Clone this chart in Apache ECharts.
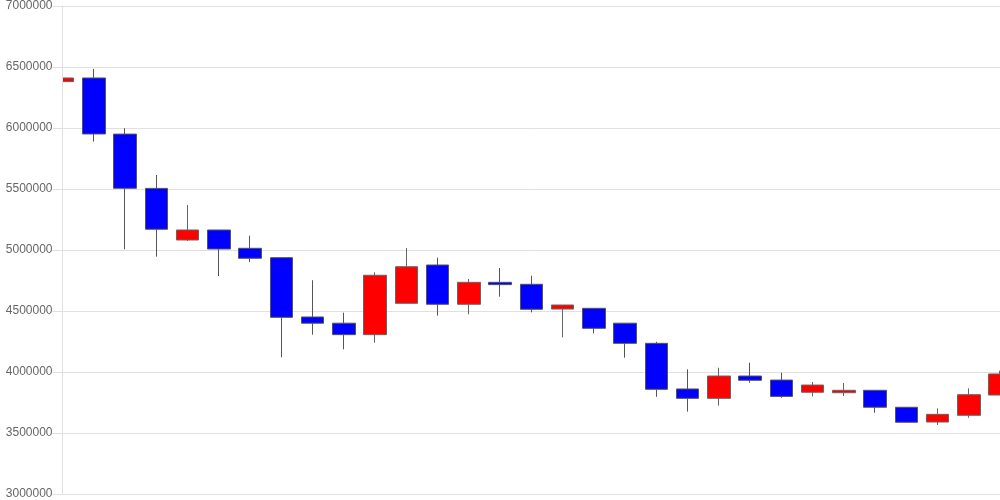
<!DOCTYPE html>
<html>
<head>
<meta charset="utf-8">
<script src="https://cdn.jsdelivr.net/npm/echarts@6/dist/echarts.min.js"></script>
<style>
  html, body { margin: 0; padding: 0; background: #fff; }
  #main { width: 1000px; height: 500px; }
</style>
</head>
<body>
<div id="main"></div>
<script>
// 31 sessions, labels are not shown on the chart
const days = [
  'd01', 'd02', 'd03', 'd04', 'd05', 'd06', 'd07', 'd08', 'd09', 'd10',
  'd11', 'd12', 'd13', 'd14', 'd15', 'd16', 'd17', 'd18', 'd19', 'd20',
  'd21', 'd22', 'd23', 'd24', 'd25', 'd26', 'd27', 'd28', 'd29', 'd30', 'd31'
];
const openV = [
  6380000, 6410000, 5950000, 5505000, 5082000, 5164000, 5014000, 4937000, 4451000, 4400000,
  4306000, 4563000, 4877000, 4555000, 4735000, 4719000, 4516000, 4522000, 4400000, 4235000,
  3861000, 3784000, 3967000, 3934000, 3834000, 3830000, 3850000, 3711000, 3590000, 3645000, 3811000
];
const closeV = [
  6410000, 5951000, 5506000, 5170000, 5164000, 5008000, 4932000, 4448000, 4400000, 4306000,
  4793000, 4863000, 4555000, 4735000, 4716000, 4514000, 4549000, 4358000, 4235000, 3858000,
  3784000, 3967000, 3932000, 3800000, 3893000, 3850000, 3711000, 3588000, 3653000, 3814000, 3984000
];
const lowV = [
  6370000, 5888000, 5006000, 4945000, 5074000, 4787000, 4900000, 4120000, 4306000, 4186000,
  4240000, 4563000, 4462000, 4473000, 4617000, 4489000, 4284000, 4317000, 4117000, 3797000,
  3675000, 3724000, 3912000, 3789000, 3800000, 3803000, 3666000, 3585000, 3566000, 3625000, 3811000
];
const highV = [
  6450000, 6484000, 5998000, 5615000, 5369000, 5164000, 5117000, 4937000, 4752000, 4486000,
  4817000, 5016000, 4937000, 4762000, 4852000, 4789000, 4549000, 4522000, 4400000, 4248000,
  4022000, 4035000, 4076000, 3994000, 3918000, 3910000, 3850000, 3711000, 3702000, 3866000, 4010000
];

const chart = echarts.init(document.getElementById('main'));
const ohlc = days.map((d, i) => [openV[i], closeV[i], lowV[i], highV[i]]);
const gridLeft = 62.5;
const yMin = 3000000, yMax = 7000000, yStep = 500000;

chart.setOption({
  animation: false,
  grid: { left: gridLeft, right: 0, top: 6, bottom: 6, containLabel: false, outerBoundsMode: 'none' },
  // white mask so the first candle is cut at the y axis like the original
  graphic: [{
    type: 'rect',
    z: 5,
    silent: true,
    shape: { x: 0, y: 0, width: gridLeft, height: 500 },
    style: { fill: '#fff' }
  }],
  xAxis: {
    type: 'category',
    data: days,
    boundaryGap: false,
    axisLine: { show: false },
    axisTick: { show: false },
    axisLabel: { show: false },
    splitLine: { show: false }
  },
  yAxis: [
    {
      // grid lines, under the candles
      type: 'value',
      min: yMin, max: yMax, interval: yStep,
      axisLine: { show: false },
      axisTick: { show: false },
      axisLabel: { show: false },
      splitLine: { show: true, lineStyle: { color: '#e0e0e0' } }
    },
    {
      // axis line, ticks and labels, above the mask
      type: 'value',
      position: 'left',
      z: 10,
      min: yMin, max: yMax, interval: yStep,
      axisLine: { show: true, lineStyle: { color: '#e0e0e0' } },
      axisTick: { show: true, length: 10, lineStyle: { color: '#e0e0e0' } },
      axisLabel: {
        color: '#666', fontFamily: 'Liberation Sans', fontSize: 12, margin: 10,
        formatter: v => String(v)
      },
      splitLine: { show: false }
    }
  ],
  series: [{
    type: 'candlestick',
    data: ohlc,
    barWidth: 23,
    itemStyle: {
      color: '#ff0000',
      color0: '#0000ff',
      borderColor: '#666',
      borderColor0: '#555',
      borderWidth: 1
    }
  }]
});
</script>
</body>
</html>
